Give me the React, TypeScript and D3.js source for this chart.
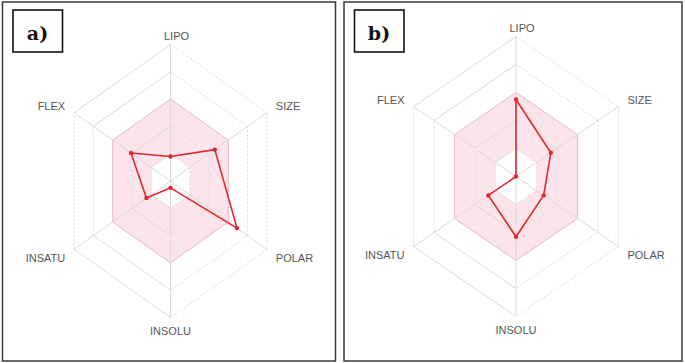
import * as d3 from "d3";

// axis order runs clockwise from the top
const axes = ["LIPO", "SIZE", "POLAR", "INSOLU", "INSATU", "FLEX"];
const valuesA = [0.18, 0.46, 0.69, 0.05, 0.25, 0.41];
const valuesB = [0.55, 0.34, 0.27, 0.43, 0.27, 0.0];
const ringLevels = [0.2, 0.4, 0.6, 0.8, 1.0];
const optimalRange = [0.2, 0.6];
const panelTags = ["a)", "b)"];

// which hexagon edges are dotted (edge i joins axis i and i+1)
const dottedEdges = [true, true, true, false, true, false];

interface PanelProps {
    left: number;
    width: number;
    cx: number;
    cy: number;
    R: number;
    kx: number;
    values: number[];
    tag: string;
}

function RadarPanel({ left, width, cx, cy, R, kx, values, tag }: PanelProps) {
    const angle = d3.scaleLinear().domain([0, axes.length]).range([0, 2 * Math.PI]);
    const r = d3.scaleLinear().domain([0, 1]).range([0, R]);

    const pt = (i: number, v: number): [number, number] => {
        const a = angle(i);
        return [cx + kx * r(v) * Math.sin(a), cy - r(v) * Math.cos(a)];
    };

    const closed = d3.line().curve(d3.curveLinearClosed);
    const hex = (v: number) => axes.map((_, i) => pt(i, v));

    // pink band between the lower and upper optimal ring
    const band = closed(hex(optimalRange[1]))! + closed(hex(optimalRange[0]).reverse())!;

    const dataPts = values.map((v, i) => pt(i, v));

    const grey = "#dddadc";

    return (
        <g>
            <rect x={left} y={2} width={width} height={359} fill="#fff" stroke="#3a3a3a" strokeWidth={1.5} />
            <rect x={left + 10.5} y={10} width={49.5} height={42} fill="#fff" stroke="#111" strokeWidth={1.6} />
            <text
                x={left + 35}
                y={39.5}
                textAnchor="middle"
                fontFamily="'DejaVu Serif', 'Liberation Serif', serif"
                fontWeight="bold"
                fontSize={19}
                fill="#111"
            >
                {tag}
            </text>

            <path d={band} fill="#fbe5eb" fillRule="evenodd" />

            {ringLevels.map(lv =>
                axes.map((_, i) => {
                    const [x1, y1] = pt(i, lv);
                    const [x2, y2] = pt((i + 1) % axes.length, lv);
                    const pinkRing = lv === optimalRange[1];
                    return (
                        <line
                            key={`${lv}-${i}`}
                            x1={x1}
                            y1={y1}
                            x2={x2}
                            y2={y2}
                            stroke={pinkRing ? "#e6b9c7" : grey}
                            strokeWidth={1}
                            strokeDasharray={!pinkRing && dottedEdges[i] ? "2,2" : undefined}
                        />
                    );
                })
            )}

            {axes.map((_, i) => {
                const [x2, y2] = pt(i, 1);
                return <line key={i} x1={cx} y1={cy} x2={x2} y2={y2} stroke={grey} strokeWidth={1} />;
            })}

            <path d={closed(dataPts)!} fill="none" stroke="#e5252e" strokeWidth={1.6} strokeLinejoin="round" />
            {dataPts.map(([x, y], i) => (
                <circle key={i} cx={x} cy={y} r={2.2} fill="#e5252e" />
            ))}

            {axes.map((name, i) => {
                const [vx, vy] = pt(i, 1);
                let x = vx;
                let y = vy;
                let anchor: "start" | "middle" | "end" = "middle";
                if (i === 0) {
                    x = vx + 6;
                    y = vy - 4.5;
                } else if (i === 3) {
                    y = vy + 17.5;
                } else {
                    const right = i < 3;
                    anchor = right ? "start" : "end";
                    x = vx + (right ? 9 : -9);
                    y = i === 1 || i === 5 ? vy - 3 : vy + 12.5;
                }
                return (
                    <text
                        key={name}
                        x={x}
                        y={y}
                        textAnchor={anchor}
                        fontFamily="'Liberation Sans', Arial, sans-serif"
                        fontSize={11}
                        fill="#555"
                    >
                        {name}
                    </text>
                );
            })}
        </g>
    );
}

export default function App() {
    return (
        <svg
            width={685}
            height={363}
            viewBox="0 0 685 363"
            style={{ position: "absolute", left: 0, top: 0, background: "#fff" }}
        >
            <rect width={685} height={363} fill="#fff" />
            <RadarPanel left={2.5} width={333} cx={170.5} cy={181} R={136.5} kx={0.815} values={valuesA} tag={panelTags[0]} />
            <RadarPanel left={344} width={338} cx={516} cy={176.5} R={140} kx={0.845} values={valuesB} tag={panelTags[1]} />
        </svg>
    );
}
